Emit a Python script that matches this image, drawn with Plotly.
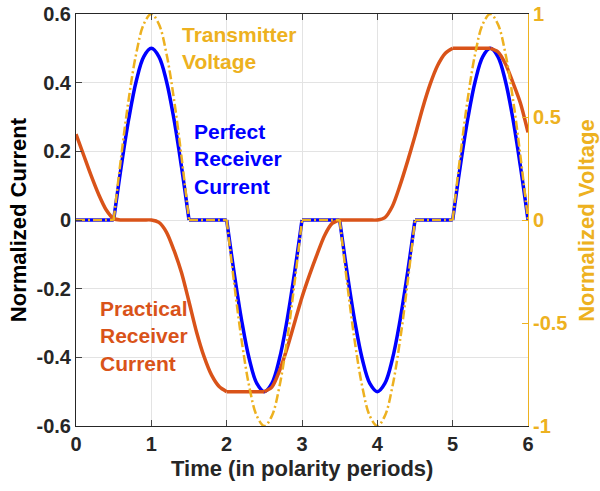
import plotly.graph_objects as go

time = [0.0, 0.1, 0.2, 0.3, 0.4, 0.5, 0.6, 0.7, 0.8, 0.9,
        1.0, 1.1, 1.2, 1.3, 1.4, 1.5, 1.6, 1.7, 1.8, 1.9,
        2.0, 2.1, 2.2, 2.3, 2.4, 2.5, 2.6, 2.7, 2.8, 2.9,
        3.0, 3.1, 3.2, 3.3, 3.4, 3.5, 3.6, 3.7, 3.8, 3.9,
        4.0, 4.1, 4.2, 4.3, 4.4, 4.5, 4.6, 4.7, 4.8, 4.9,
        5.0, 5.1, 5.2, 5.3, 5.4, 5.5, 5.6, 5.7, 5.8, 5.9, 6.0]

perfect_current = [0, 0, 0, 0, 0, 0,
                   0.155, 0.294, 0.405, 0.476, 0.5, 0.476, 0.405, 0.294, 0.155, 0,
                   0, 0, 0, 0, 0,
                   -0.155, -0.294, -0.405, -0.476, -0.5, -0.476, -0.405, -0.294, -0.155, 0,
                   0, 0, 0, 0, 0,
                   -0.155, -0.294, -0.405, -0.476, -0.5, -0.476, -0.405, -0.294, -0.155, 0,
                   0, 0, 0, 0, 0,
                   0.155, 0.294, 0.405, 0.476, 0.5, 0.476, 0.405, 0.294, 0.155, 0]

transmitter_voltage = [0, 0, 0, 0, 0, 0,
                       0.309, 0.588, 0.809, 0.951, 1, 0.951, 0.809, 0.588, 0.309, 0,
                       0, 0, 0, 0, 0,
                       -0.309, -0.588, -0.809, -0.951, -1, -0.951, -0.809, -0.588, -0.309, 0,
                       0, 0, 0, 0, 0,
                       -0.309, -0.588, -0.809, -0.951, -1, -0.951, -0.809, -0.588, -0.309, 0,
                       0, 0, 0, 0, 0,
                       0.309, 0.588, 0.809, 0.951, 1, 0.951, 0.809, 0.588, 0.309, 0]

practical_current = [0.25, 0.19, 0.13, 0.075, 0.03, 0.004, 0, 0, 0, 0, 0,
                     -0.007, -0.035, -0.088, -0.153, -0.238, -0.326, -0.398, -0.452, -0.485, -0.5,
                     -0.5, -0.5, -0.5, -0.5, -0.5,
                     -0.487, -0.44, -0.375, -0.30, -0.225, -0.16, -0.1, -0.045, -0.01, 0,
                     0, 0, 0, 0, 0,
                     0.007, 0.04, 0.1, 0.17, 0.245, 0.325, 0.395, 0.45, 0.485, 0.5,
                     0.5, 0.5, 0.5, 0.5, 0.5,
                     0.49, 0.455, 0.40, 0.34, 0.255]

# sample indices where the waveforms have a corner (burst starts/ends, plateau edges)
burst_corners = [5, 15, 20, 30, 35, 45, 50]
practical_corners = [20, 25, 35, 50, 55]

x_ticks = [0, 1, 2, 3, 4, 5, 6]
left_ticks = [-0.6, -0.4, -0.2, 0, 0.2, 0.4, 0.6]
left_labels = ["-0.6", "-0.4", "-0.2", "0", "0.2", "0.4", "0.6"]
right_ticks = [-1, -0.5, 0, 0.5, 1]
right_labels = ["-1", "-0.5", "0", "0.5", "1"]

BLUE = "#0000FF"
ORANGE = "#D95319"
YELLOW = "#EDB120"
AXC = "#262626"
FONT = "Liberation Sans, Arial, sans-serif"


def segmented(xs, ys, corners):
    """Split a sampled series at its corner samples so each piece is smoothed separately."""
    idx = [0] + corners + [len(xs) - 1]
    X, Y = [], []
    for a, b in zip(idx[:-1], idx[1:]):
        X += xs[a:b + 1] + [None]
        Y += ys[a:b + 1] + [None]
    return X, Y


fig = go.Figure()
bx, by = segmented(time, perfect_current, burst_corners)
fig.add_trace(go.Scatter(x=bx, y=by, mode="lines", connectgaps=False,
                         line=dict(color=BLUE, width=3.5, shape="spline", smoothing=1.0),
                         name="Perfect Receiver Current"))
px_, py_ = segmented(time, practical_current, practical_corners)
fig.add_trace(go.Scatter(x=px_, y=py_, mode="lines", connectgaps=False,
                         line=dict(color=ORANGE, width=3.5, shape="spline", smoothing=0.8),
                         name="Practical Receiver Current"))
vx, vy = segmented(time, transmitter_voltage, burst_corners)
fig.add_trace(go.Scatter(x=vx, y=vy, mode="lines", yaxis="y2", connectgaps=False,
                         line=dict(color=YELLOW, width=2.5, shape="spline", smoothing=1.0,
                                   dash="9px,3px,2px,3px"),
                         name="Transmitter Voltage"))

tickfont = dict(family=FONT, size=20, color=AXC, weight="bold")

fig.update_layout(
    width=600, height=491,
    margin=dict(l=76, r=72, t=14, b=65, autoexpand=False),
    paper_bgcolor="white", plot_bgcolor="white",
    showlegend=False,
    xaxis=dict(range=[0, 6], tickvals=x_ticks, ticks="inside", ticklen=6,
               showline=True, linecolor=AXC, linewidth=1, mirror="ticks",
               showgrid=True, gridcolor="#E3E3E3", gridwidth=1, zeroline=False,
               tickfont=tickfont, automargin=False),
    yaxis=dict(range=[-0.6, 0.6], tickvals=left_ticks, ticktext=left_labels,
               ticks="inside", ticklen=6, showline=True, linecolor=AXC, linewidth=1,
               showgrid=True, gridcolor="#E3E3E3", gridwidth=1, zeroline=False,
               tickfont=tickfont, automargin=False),
    yaxis2=dict(range=[-1, 1], tickvals=right_ticks, ticktext=right_labels,
                overlaying="y", side="right", ticks="inside", ticklen=6,
                showline=True, linecolor=YELLOW, linewidth=1, tickcolor=YELLOW,
                showgrid=False, zeroline=False, automargin=False,
                tickfont=dict(family=FONT, size=20, color=YELLOW, weight="bold")),
)

annots = [
    dict(text="Transmitter<br>Voltage", x=1.38, y=0.50, xref="x", yref="y",
         xanchor="left", yanchor="middle", align="left",
         font=dict(family=FONT, size=21, color=YELLOW, weight="bold")),
    dict(text="Perfect<br>Receiver<br>Current", x=1.54, y=0.178, xref="x", yref="y",
         xanchor="left", yanchor="middle", align="left",
         font=dict(family=FONT, size=21, color=BLUE, weight="bold")),
    dict(text="Practical<br>Receiver<br>Current", x=0.29, y=-0.338, xref="x", yref="y",
         xanchor="left", yanchor="middle", align="left",
         font=dict(family=FONT, size=21, color=ORANGE, weight="bold")),
    dict(text="Time (in polarity periods)", x=0.5, y=-0.102, xref="paper", yref="paper",
         xanchor="center", yanchor="middle",
         font=dict(family=FONT, size=22, color=AXC, weight="bold")),
    dict(text="Normalized Current", x=-0.128, y=0.5, xref="paper", yref="paper",
         xanchor="center", yanchor="middle", textangle=-90,
         font=dict(family=FONT, size=22, color="black", weight="bold")),
    dict(text="Normalized Voltage", x=1.128, y=0.5, xref="paper", yref="paper",
         xanchor="center", yanchor="middle", textangle=-90,
         font=dict(family=FONT, size=22, color=YELLOW, weight="bold")),
]
for a in annots:
    a["showarrow"] = False
    fig.add_annotation(**a)

fig.write_html("out.html", config={"displayModeBar": False},
               post_script="document.body.style.margin='0px';document.body.style.overflow='hidden';")
